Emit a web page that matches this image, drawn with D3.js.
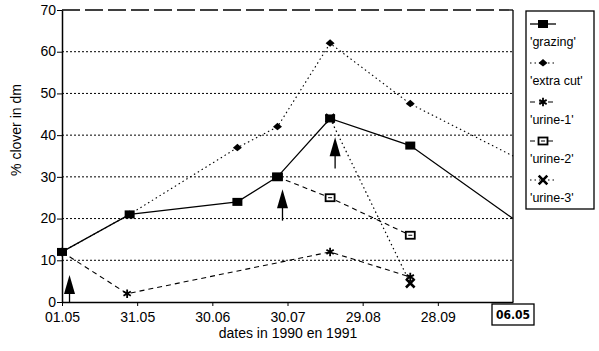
<!DOCTYPE html>
<html>
<head>
<meta charset="utf-8">
<script src="https://cdn.jsdelivr.net/npm/d3@7"></script>
<style>
  body { margin: 0; background: #fff; }
  #chart { width: 599px; height: 351px; }
  text { font-family: "Liberation Sans", Arial, sans-serif; fill: #000; }
</style>
</head>
<body>
<div id="chart"></div>
<script>
// days after 01.05.1990 (last point = 06.05.1991, drawn at the broken right end)
const tickDays = [0, 30, 60, 90, 120, 150];
const tickLabels = ["01.05", "31.05", "30.06", "30.07", "29.08", "28.09"];
const endDay = 180;
const endLabel = "06.05";
const yTicks = [0, 10, 20, 30, 40, 50, 60, 70];

const grazingDays = [0, 27, 70, 86, 107, 139, 180];
const grazingVals = [12, 21, 24, 30, 44, 37.5, 20];
const extraCutDays = [0, 27, 70, 86, 107, 139, 180];
const extraCutVals = [12, 21, 37, 42, 62, 47.5, 35];
const urine1Days = [0, 26, 107, 139];
const urine1Vals = [12, 2, 12, 6];
const urine2Days = [86, 107, 139];
const urine2Vals = [30, 25, 16];
const urine3Days = [107, 139];
const urine3Vals = [44, 4.5];

// arrows: day, value at tip, value at stem end
const arrowDays = [3, 88, 109];
const arrowTips = [6.5, 27, 39.5];
const arrowEnds = [0, 19.5, 32];

const seriesNames = ["'grazing'", "'extra cut'", "'urine-1'", "'urine-2'", "'urine-3'"];

const width = 599, height = 351;
const margin = { top: 10, right: 86, bottom: 49, left: 62 };

const svg = d3.select("#chart").append("svg")
  .attr("width", width).attr("height", height);

const x = d3.scaleLinear().domain([0, endDay]).range([margin.left, width - margin.right]);
const y = d3.scaleLinear().domain([0, 70]).range([height - margin.bottom, margin.top]);

// grid
svg.append("g")
  .selectAll("line")
  .data(yTicks.filter(d => d > 0 && d < 70))
  .join("line")
  .attr("x1", x(0)).attr("x2", x(endDay))
  .attr("y1", d => y(d)).attr("y2", d => y(d))
  .attr("stroke", "#000").attr("stroke-width", 1)
  .attr("stroke-dasharray", "2,2");

// frame top (dashed) and right
svg.append("line")
  .attr("x1", x(0)).attr("x2", x(endDay)).attr("y1", y(70)).attr("y2", y(70))
  .attr("stroke", "#000").attr("stroke-width", 1.3).attr("stroke-dasharray", "18,5");
svg.append("line")
  .attr("x1", x(endDay)).attr("x2", x(endDay)).attr("y1", y(70)).attr("y2", y(0))
  .attr("stroke", "#000").attr("stroke-width", 1.3);

// axes
const yAxis = svg.append("g")
  .attr("transform", `translate(${x(0)},0)`)
  .call(d3.axisLeft(y).tickValues(yTicks).tickSize(5).tickSizeOuter(0));
yAxis.select(".domain").attr("stroke-width", 1.5);
yAxis.selectAll("text").style("font-size", "14px").attr("x", -6).attr("dy", "0.3em");

const xAxis = svg.append("g")
  .attr("transform", `translate(0,${y(0)})`)
  .call(d3.axisBottom(x).tickValues(tickDays).tickSize(4).tickSizeOuter(0)
    .tickFormat((d, i) => tickLabels[i]));
xAxis.select(".domain").attr("stroke-width", 1.5);
xAxis.selectAll("text").style("font-size", "14px").attr("y", 10);

// boxed end label (1991)
const endG = svg.append("g").attr("transform", `translate(${x(endDay)},${y(0)})`);
endG.append("rect")
  .attr("x", -21).attr("y", 2).attr("width", 42).attr("height", 21)
  .attr("fill", "#fff").attr("stroke", "#000").attr("stroke-width", 1.3);
endG.append("text")
  .attr("x", 0).attr("y", 17).attr("text-anchor", "middle")
  .style("font-family", "'DejaVu Sans Condensed', 'DejaVu Sans', sans-serif")
  .style("font-weight", "bold").style("font-size", "12px")
  .text(endLabel);

// axis titles
svg.append("text")
  .attr("transform", `translate(16,${(y(0) + y(70)) / 2 - 26}) rotate(-90)`)
  .attr("text-anchor", "middle").attr("dy", "0.35em")
  .style("font-size", "14px")
  .text("% clover in dm");
svg.append("text")
  .attr("x", 288).attr("y", 338).attr("text-anchor", "middle")
  .style("font-size", "14px")
  .text("dates in 1990 en 1991");

// series
const series = [
  { days: grazingDays, vals: grazingVals, dash: null, w: 1.3 },
  { days: extraCutDays, vals: extraCutVals, dash: "1.5,3", w: 1.1 },
  { days: urine1Days, vals: urine1Vals, dash: "5,4", w: 1.1 },
  { days: urine2Days, vals: urine2Vals, dash: "5,4", w: 1.1 },
  { days: urine3Days, vals: urine3Vals, dash: "1.5,3", w: 1.2 }
];

const line = d3.line().x(d => x(d[0])).y(d => y(d[1]));

function drawMarker(g, k) {
  if (k === 0) {
    g.append("rect").attr("x", -5).attr("y", -4).attr("width", 10).attr("height", 8).attr("fill", "#000");
  } else if (k === 1) {
    g.append("path").attr("d", "M0,-4 L4.5,0 L0,3.5 L-4.5,0 Z").attr("fill", "#000");
  } else if (k === 2) {
    g.append("path").attr("d", d3.symbol(d3.symbolAsterisk, 50)())
      .attr("fill", "none").attr("stroke", "#000").attr("stroke-width", 1.8);
  } else if (k === 3) {
    g.append("rect").attr("x", -4.5).attr("y", -3.5).attr("width", 9).attr("height", 7)
      .attr("fill", "#fff").attr("stroke", "#000").attr("stroke-width", 1.8);
    g.append("line").attr("x1", -2).attr("x2", 2).attr("y1", 0).attr("y2", 0).attr("stroke", "#000");
  } else {
    g.append("path").attr("d", d3.symbol(d3.symbolTimes, 50)())
      .attr("fill", "none").attr("stroke", "#000").attr("stroke-width", 2.6);
  }
}

// draw lines first, then markers (grazing markers on top, since other series start on them)
series.forEach(s => {
  const pts = s.days.map((d, i) => [d, s.vals[i]]);
  svg.append("path")
    .datum(pts)
    .attr("d", line)
    .attr("fill", "none").attr("stroke", "#000")
    .attr("stroke-width", s.w)
    .attr("stroke-dasharray", s.dash);
});
[1, 2, 3, 4, 0].forEach(k => {
  const s = series[k];
  s.days.forEach((d, i) => {
    if (d >= endDay) return;
    drawMarker(svg.append("g").attr("transform", `translate(${x(d)},${y(s.vals[i])})`), k);
  });
});

// arrows
arrowDays.forEach((d, i) => {
  const ax = x(d), tip = y(arrowTips[i]), end = y(arrowEnds[i]);
  svg.append("line").attr("x1", ax).attr("x2", ax).attr("y1", tip + 10).attr("y2", end)
    .attr("stroke", "#000").attr("stroke-width", 1.3);
  svg.append("path")
    .attr("d", `M${ax},${tip} L${ax - 5.5},${tip + 19} L${ax + 5.5},${tip + 19} Z`)
    .attr("fill", "#000");
});

// legend
const legend = svg.append("g").attr("transform", "translate(526,11)");
legend.append("rect")
  .attr("width", 68).attr("height", 198)
  .attr("fill", "#fff").attr("stroke", "#000").attr("stroke-width", 1.3);
seriesNames.forEach((name, k) => {
  const gy = 13 + k * 39;
  legend.append("line")
    .attr("x1", 4).attr("x2", 30).attr("y1", gy).attr("y2", gy)
    .attr("stroke", "#000").attr("stroke-width", series[k].w)
    .attr("stroke-dasharray", series[k].dash);
  drawMarker(legend.append("g").attr("transform", `translate(17,${gy})`), k);
  legend.append("text")
    .attr("x", 4).attr("y", gy + 18).attr("dy", "0.35em")
    .style("font-size", "12.5px")
    .text(name);
});
</script>
</body>
</html>
